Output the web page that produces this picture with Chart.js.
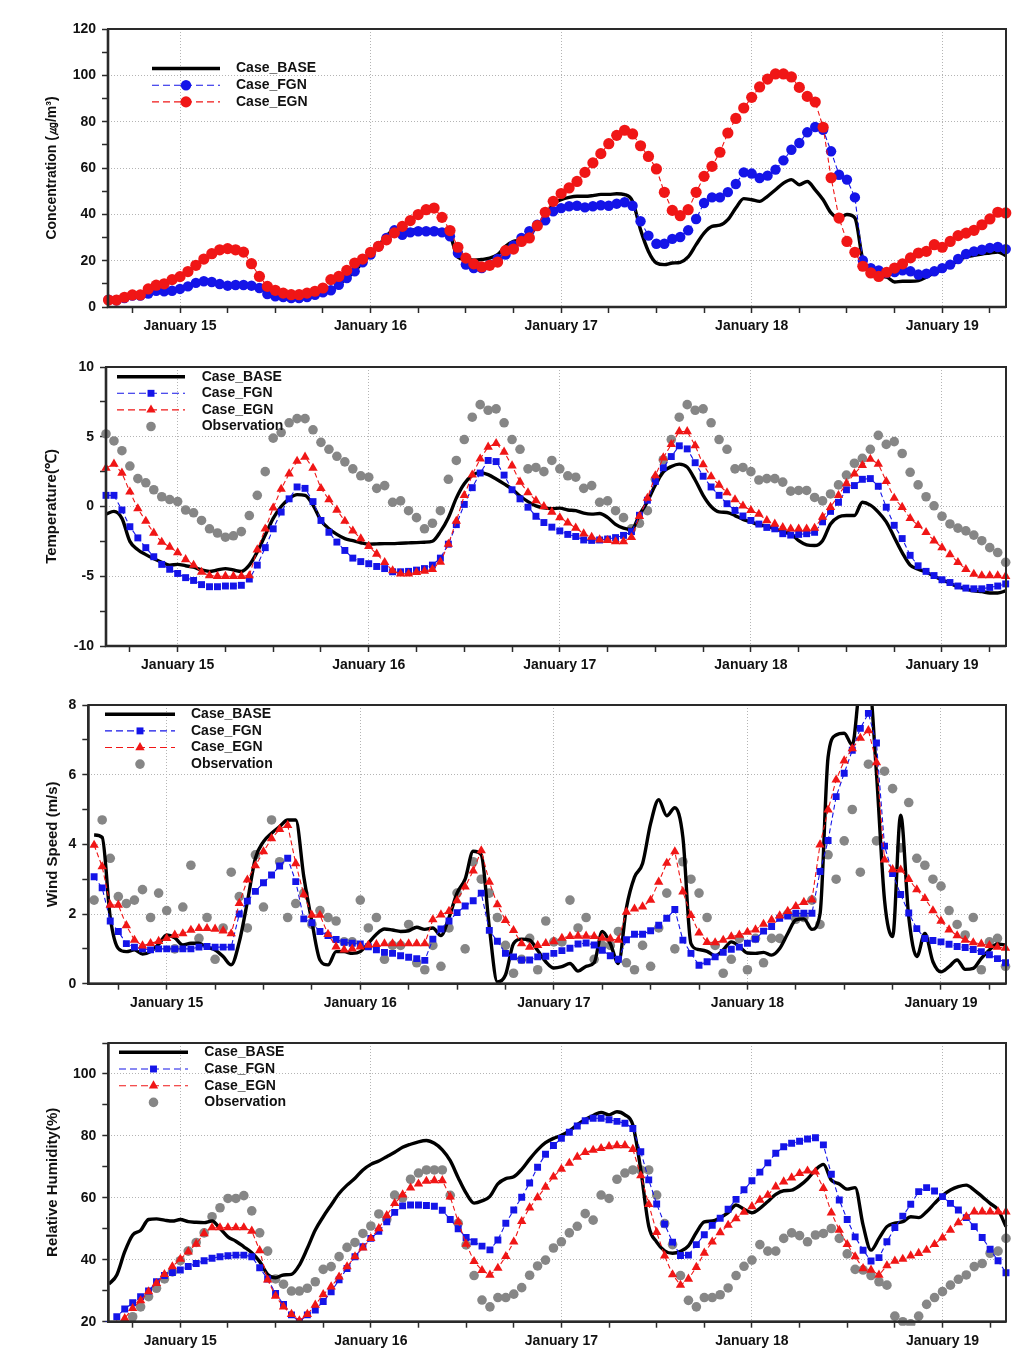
<!DOCTYPE html>
<html>
<head>
<meta charset="utf-8">
<script src="https://cdn.jsdelivr.net/npm/chart.js@4.4.1/dist/chart.umd.min.js"></script>
<style>
html,body{margin:0;padding:0;background:#fff;}
#wrap{position:relative;width:1019px;height:1361px;overflow:hidden;background:#fff;}
canvas{position:absolute;left:0;}
</style>
</head>
<body>
<div id="wrap">
<canvas id="c1" width="1019" height="340" style="top:0px"></canvas>
<canvas id="c2" width="1019" height="340" style="top:340px"></canvas>
<canvas id="c3" width="1019" height="340" style="top:680px"></canvas>
<canvas id="c4" width="1019" height="341" style="top:1020px"></canvas>
</div>
<script>
// ---------- time axis (hourly, hours relative to January 15 00:00) ----------
const FIRST_HOUR = -9;          // first sample: January 14, 15:00
const MONTH = 'January';
const FIRST_LABEL_DAY = 15;      // day shown at hour 0
const SERIES_NAMES = ['Case_BASE', 'Case_FGN', 'Case_EGN', 'Observation'];

// ---------- Panel 1: Concentration (㎍/m³) ----------
const CONC_BASE = [
 3,3.2,4,4.8,5,6,7,7,7.4,8,
 9,10.3,11,10.8,10,9.3,9.5,9.5,9.2,8.2,
 5.8,4.8,4.4,4,4,4.4,5.3,6.3,7.2,9.6,
 12.5,15.4,19.3,22.6,26.5,30.5,33.5,33.5,33.3,33.3,
 33.3,33.3,33,31,21.5,20.5,20.2,20.5,21.1,22.6,
 26.2,28.3,29,31.2,34.8,39.1,44.5,46.3,47.3,47.8,
 47.8,48.1,48.6,48.6,48.9,48.5,45.6,33.4,24,19,
 18.3,19,19.3,21.6,26.9,31.9,34.8,35.3,37.7,42.7,
 46.8,46.3,45.6,47.8,50.6,53.5,55,52.8,54.2,50.6,
 46.3,40.6,38.4,39.9,38.4,20.4,14.4,13.2,12.9,10.8,
 11.1,11.1,11.4,12.9,14.7,16.1,18,20.1,21.6,22.3,
 22.9,23.3,23.7,22.2];
const CONC_FGN = [
 3.2,2.9,3.9,4.9,4.9,5.8,7,6.8,7,7.8,
 8.9,10.4,11.1,10.8,9.9,9.2,9.5,9.5,9.2,8.2,
 5.6,4.6,4.3,3.9,3.9,4.3,5.3,6.3,7.2,9.6,
 12.5,15.4,19.3,22.6,26.2,29.8,33.1,31.2,32.2,32.7,
 32.7,32.7,32.2,30.5,23.3,18.3,16.8,16.8,18.3,20.7,
 22.6,26.6,29.8,32.7,35.5,37.4,41.3,42.7,43.5,43.7,
 43,43.5,43.9,43.7,44.6,45.2,43.7,37,30.8,27.3,
 27.3,29.4,30.2,33.1,38,44.9,47.3,47.3,49.6,53.1,
 58.1,57.6,55.7,56.7,59.3,63.3,67.9,70.8,75.4,77.7,
 76.5,67.2,57.1,55,47.3,20.1,16.8,15.8,14.7,15.1,
 15.8,15.4,14,14.4,15.4,16.8,18.3,20.7,22.9,24,
 24.7,25.5,25.9,25];
const CONC_EGN = [
 3,3,4.2,5.2,5.2,7.8,9.4,10,11.8,13.1,
 15.3,18,20.7,23,24.7,25.2,24.7,23.7,18.7,13.2,
 8.9,7.2,6,5.3,5.3,6,6.8,8.2,11.8,13.2,
 15.8,19,20.7,23.6,26.2,29,32,34.8,37.3,39.9,
 42,42.7,38.7,33,25.8,21.1,18.6,17.3,18,19.4,
 24.3,25,28.3,29.8,35.1,40.9,45.6,49,51.4,54.2,
 58.1,62.2,66.2,70.5,74.1,76.3,74.7,69.6,65,59.6,
 49.5,41.7,39.4,42,49.5,56.4,60.7,66.8,75.1,81.4,
 85.9,90.5,95,98.4,100.6,100.6,99.3,94.8,90.9,88.5,
 77.6,55.8,38.4,28.3,23.6,17.6,14.7,13.2,15,16.8,
 18.6,21.2,23.3,24,26.9,25.8,28.3,30.8,31.9,33.1,
 35.5,38,40.9,40.6];

// ---------- Panel 2: Temperature (℃) ----------
const TEMP_BASE = [
 -0.55,-0.35,-0.85,-2.5,-3.1,-3.45,-3.75,-4.0,-4.2,-4.15,
 -4.25,-4.35,-4.55,-4.65,-4.55,-4.45,-4.55,-4.65,-4.2,-3.25,
 -2.05,-0.85,0.0,0.55,0.85,0.8,0.1,-1.0,-1.6,-2.0,
 -2.3,-2.45,-2.6,-2.7,-2.68,-2.66,-2.66,-2.63,-2.61,-2.59,
 -2.56,-2.49,-1.8,-0.8,0.6,1.63,2.23,2.43,2.28,1.97,
 1.62,1.25,0.75,0.35,0.05,-0.1,-0.15,-0.12,-0.25,-0.3,
 -0.48,-0.55,-0.5,-0.78,-1.28,-1.55,-1.65,-0.6,0.35,1.55,
 2.48,2.87,3.04,2.82,1.9,0.8,0.0,-0.39,-0.43,-0.65,
 -0.92,-1.1,-1.32,-1.4,-1.6,-1.8,-1.95,-2.45,-2.75,-2.8,
 -2.45,-1.25,-0.75,-0.65,-0.65,0.3,0.1,-0.4,-1.1,-2.2,
 -3.3,-4.2,-4.5,-4.7,-5.0,-5.25,-5.5,-5.75,-5.9,-6.05,
 -6.1,-6.2,-6.2,-6.05];
const TEMP_FGN = [
 0.8,0.8,-0.25,-1.45,-2.25,-2.95,-3.6,-4.15,-4.5,-4.8,
 -5.1,-5.3,-5.6,-5.75,-5.75,-5.7,-5.7,-5.65,-5.2,-4.2,
 -2.95,-1.6,-0.4,0.55,1.4,1.3,0.35,-1.0,-1.85,-2.55,
 -3.15,-3.7,-3.95,-4.1,-4.3,-4.45,-4.68,-4.68,-4.65,-4.56,
 -4.45,-4.2,-3.7,-2.7,-1.3,0.15,1.35,2.4,3.3,3.22,
 2.25,1.2,0.55,-0.05,-0.7,-1.15,-1.48,-1.75,-2.0,-2.15,
 -2.4,-2.43,-2.4,-2.33,-2.23,-2.07,-1.8,-0.63,0.45,1.8,
 2.78,3.58,4.35,4.13,3.14,2.17,1.4,0.8,0.2,-0.28,
 -0.68,-1.0,-1.26,-1.5,-1.6,-1.95,-2.05,-2.0,-1.95,-1.85,
 -1.1,-0.35,0.3,1.2,1.5,1.95,2.0,1.45,-0.05,-1.35,
 -2.3,-3.5,-4.25,-4.65,-4.95,-5.25,-5.45,-5.7,-5.85,-5.9,
 -5.9,-5.8,-5.7,-5.55];
const TEMP_EGN = [
 2.75,3.05,2.4,1.05,-0.15,-1.05,-1.9,-2.55,-2.9,-3.3,
 -3.8,-4.2,-4.7,-4.95,-5.0,-5.0,-5.0,-5.0,-4.95,-3.1,
 -1.6,-0.1,1.25,2.35,3.25,3.55,2.75,1.3,0.5,-0.25,
 -1.05,-1.75,-2.3,-2.85,-3.4,-4.0,-4.6,-4.83,-4.83,-4.72,
 -4.63,-4.5,-3.98,-2.7,-1.05,0.8,2.27,3.42,4.27,4.53,
 3.91,2.92,1.76,1.0,0.42,0.0,-0.39,-0.8,-1.17,-1.54,
 -1.95,-2.19,-2.38,-2.43,-2.52,-2.52,-2.21,-0.7,0.6,2.22,
 3.5,4.45,5.38,5.38,4.37,3.0,2.14,1.54,1.0,0.5,
 0.05,-0.28,-0.55,-1.0,-1.25,-1.5,-1.6,-1.6,-1.6,-1.55,
 -0.75,-0.05,0.8,1.65,2.35,2.95,3.4,3.05,1.8,0.6,
 -0.05,-0.85,-1.35,-1.85,-2.45,-2.95,-3.45,-4.0,-4.5,-4.85,
 -4.95,-4.95,-4.95,-5.0];
const TEMP_OBS = [
 5.2,4.7,4.0,2.9,2.0,1.7,1.2,0.7,0.5,0.35,
 -0.25,-0.45,-1.0,-1.6,-1.9,-2.2,-2.1,-1.8,-0.65,0.8,
 2.5,4.9,5.3,6.0,6.3,6.3,5.5,4.6,4.1,3.6,
 3.2,2.7,2.2,2.1,1.3,1.5,0.3,0.4,-0.3,-0.8,
 -1.6,-1.2,-0.3,1.95,3.3,4.8,6.4,7.3,6.9,7.0,
 6.0,4.8,4.1,2.7,2.8,2.5,3.3,2.7,2.2,2.1,
 1.3,1.5,0.3,0.4,-0.3,-0.8,-1.6,-1.2,-0.3,1.95,
 3.35,4.8,6.4,7.3,6.9,7.0,6.0,4.8,4.1,2.7,
 2.8,2.5,1.9,2.0,2.0,1.75,1.1,1.15,1.15,0.65,
 0.4,0.9,1.55,2.25,3.1,3.45,4.1,5.1,4.45,4.65,
 3.8,2.45,1.55,0.7,0.05,-0.7,-1.25,-1.55,-1.75,-2.05,
 -2.45,-2.95,-3.3,-4.0];

// ---------- Panel 3: Wind Speed (m/s) ----------
const WIND_BASE = [
 4.27,4.2,1.9,1.01,0.92,0.97,0.85,0.92,1.13,1.4,
 1.32,1.11,1.16,1.16,1.04,0.97,0.78,0.54,1.2,2.35,
 3.6,4.08,4.32,4.51,4.7,4.7,3.07,1.78,0.68,0.54,
 0.92,0.92,0.87,0.92,1.16,1.42,1.57,1.54,1.5,1.52,
 1.62,1.56,1.6,1.38,1.9,2.6,3.0,3.8,3.7,1.62,
 0.05,0.25,1.15,1.28,1.25,0.95,0.63,0.45,0.49,0.58,
 0.36,0.5,0.6,1.5,1.15,0.58,2.18,3.06,3.45,4.6,
 5.28,4.82,5.05,4.2,1.15,0.98,0.93,0.8,0.97,1.2,
 1.07,0.88,0.87,0.9,0.82,1.01,1.44,1.83,1.86,1.56,
 2.0,6.5,7.14,7.19,6.85,8.6,8.8,6.04,2.4,1.35,
 4.84,1.92,0.78,1.44,0.63,0.34,0.49,0.68,0.41,0.44,
 0.73,0.97,1.14,1.11];
const WIND_FGN = [
 3.07,2.75,1.8,1.5,1.15,1.05,1.0,0.97,1.0,1.0,
 1.0,1.0,1.0,1.05,1.07,1.05,1.05,1.05,2.0,2.37,
 2.65,2.9,3.12,3.38,3.6,2.93,1.86,1.75,1.5,1.38,
 1.27,1.19,1.16,1.14,1.06,0.97,0.9,0.87,0.8,0.76,
 0.72,0.67,1.28,1.57,1.8,2.04,2.23,2.38,2.6,1.53,
 1.22,0.87,0.77,0.68,0.68,0.77,0.79,0.87,0.95,1.02,
 1.14,1.17,1.11,0.96,0.8,0.7,1.26,1.42,1.42,1.52,
 1.68,1.88,2.13,1.25,0.87,0.53,0.63,0.77,0.9,0.99,
 1.05,1.16,1.28,1.51,1.64,1.88,1.94,2.02,2.02,2.02,
 3.22,4.11,5.37,6.04,6.7,7.33,7.76,6.91,3.95,3.16,
 2.56,2.03,1.58,1.3,1.24,1.2,1.13,1.07,1.04,0.98,
 0.92,0.83,0.72,0.6];
const WIND_EGN = [
 3.98,3.36,2.26,2.26,1.67,1.25,1.09,1.16,1.22,1.3,
 1.4,1.44,1.54,1.59,1.59,1.57,1.52,1.44,2.31,2.98,
 3.39,3.79,4.17,4.43,4.55,3.45,2.56,1.97,1.97,1.42,
 1.06,0.97,1.0,1.06,1.11,1.13,1.15,1.15,1.15,1.15,
 1.15,1.15,1.84,1.98,2.08,2.39,2.78,3.24,3.82,2.92,
 2.27,1.82,1.53,1.15,1.05,1.1,1.16,1.21,1.31,1.36,
 1.37,1.37,1.36,1.31,1.29,1.25,2.06,2.15,2.21,2.4,
 2.92,3.46,3.79,2.64,1.96,1.46,1.19,1.18,1.25,1.35,
 1.4,1.48,1.55,1.71,1.83,1.95,2.08,2.22,2.34,2.41,
 3.99,4.99,5.85,6.4,6.75,7.05,7.27,6.35,3.56,3.28,
 3.27,3.0,2.7,2.45,2.1,1.8,1.55,1.38,1.25,1.18,
 1.14,1.1,1.05,1.02];
const WIND_OBS = [
 2.4,4.7,3.6,2.5,2.3,2.4,2.7,1.9,2.6,2.1,
 1.0,2.2,3.4,1.3,1.9,0.7,1.6,3.2,2.5,1.6,
 3.7,2.2,4.7,3.5,1.9,2.3,2.6,1.7,2.1,1.9,
 1.8,1.2,1.2,2.4,1.6,1.9,0.7,1.1,1.1,1.7,
 0.6,0.4,1.1,0.5,1.6,2.6,1.0,3.5,3.0,2.6,
 1.9,1.1,0.3,0.7,1.3,0.4,1.8,1.2,1.2,2.4,
 1.6,1.9,0.7,1.1,1.1,1.5,0.6,0.4,1.1,0.5,
 1.6,2.6,1.0,3.5,3.0,2.6,1.9,1.1,0.3,0.7,
 1.3,0.4,1.3,0.6,1.3,1.3,2.0,1.85,1.9,2.4,
 1.7,3.7,3.0,4.1,5.0,3.2,6.3,4.1,6.1,5.6,
 3.9,5.2,3.6,3.4,3.0,2.8,2.1,1.7,1.4,1.9,
 0.4,1.2,1.3,0.5];

// ---------- Panel 4: Relative Humidity (%) ----------
const RH_BASE = [
 32.1,35.1,42.6,48.0,49.5,53.0,53.2,52.8,52.5,53.0,
 52.3,52.1,52.0,52.5,50.1,47.4,46.0,44.2,42.3,39.4,
 35.3,34.2,35.1,35.3,38.3,43.7,49.6,53.9,57.7,61.4,
 64.1,66.3,69.0,70.8,71.9,73.3,74.7,76.3,77.3,78.1,
 78.5,77.6,75.5,72.0,66.5,61.5,58.3,59.0,60.5,64.5,
 66.2,66.8,69.2,72.5,75.5,77.8,79.2,80.2,81.6,83.6,
 85.3,86.6,87.6,86.8,87.8,86.8,83.5,69.0,50.9,45.7,
 42.9,42.1,42.7,44.5,48.8,52.2,52.5,53.6,55.2,57.7,
 56.3,55.2,56.6,58.8,61.1,62.3,62.5,63.9,66.1,69.0,
 70.8,65.7,64.5,62.8,63.3,51.2,43.1,46.9,50.7,51.8,
 52.3,53.9,53.6,55.5,58.2,60.7,62.5,63.6,64.1,62.5,
 60.4,58.2,56.1,50.7];
const RH_FGN = [
 19.0,21.6,24.1,26.1,28.1,29.9,32.9,34.9,35.9,36.7,
 37.8,38.8,39.7,40.5,41.0,41.3,41.5,41.5,41.0,37.4,
 33.8,29.1,25.6,22.2,20.0,22.2,23.8,26.5,29.7,33.5,
 37.2,41.0,44.2,46.9,49.2,52.3,55.3,57.4,57.7,57.7,
 57.5,57.3,56.0,53.0,50.0,47.2,45.8,44.4,43.2,46.4,
 51.8,56.1,60.2,64.8,69.9,74.1,76.9,79.2,81.2,83.2,
 84.9,85.7,85.7,85.2,84.7,84.1,82.4,74.9,65.8,58.0,
 51.5,45.7,41.4,41.5,44.9,48.1,51.1,53.4,56.3,59.5,
 62.6,65.5,68.3,71.3,74.4,76.5,77.6,78.3,79.0,79.4,
 77.1,67.6,59.3,53.0,47.4,43.1,39.6,40.7,45.8,50.4,
 54.1,57.9,62.0,63.3,62.2,60.4,58.2,56.1,53.6,50.7,
 47.2,43.4,39.7,35.8];
const RH_EGN = [
 16.0,18.8,21.1,24.3,26.8,29.7,32.4,35.3,37.8,40.2,
 42.6,45.1,48.5,50.4,50.4,50.4,50.4,50.4,49.3,43.0,
 33.5,28.3,24.8,22.4,20.3,22.4,25.4,28.8,31.3,34.5,
 37.8,41.0,43.9,46.9,50.1,54.3,58.2,61.0,63.2,64.5,
 65.4,65.6,65.6,60.3,52.3,45.1,39.5,36.6,35.1,37.3,
 41.1,45.8,52.4,56.8,60.1,63.5,66.8,69.3,71.2,73.2,
 74.7,75.4,76.0,76.6,76.9,76.9,75.7,67.2,57.9,48.9,
 41.3,35.2,31.8,33.8,37.6,42.2,45.8,48.8,51.2,53.3,
 55.4,57.2,59.3,60.9,63.6,65.2,66.5,67.9,68.7,68.4,
 63.1,55.2,49.6,45.0,41.0,37.2,36.7,35.1,38.1,39.6,
 40.2,41.3,42.1,43.1,45.0,47.1,49.6,52.0,53.9,55.5,
 55.5,55.5,55.5,55.5];
const RH_OBS = [
 null,null,null,21.6,24.8,28.1,30.8,33.8,36.1,39.7,
 42.8,45.6,48.7,53.9,56.8,59.8,59.8,60.7,55.8,48.7,
 42.8,33.8,32.1,29.9,29.9,30.8,32.9,36.9,37.8,41.0,
 44.0,45.6,48.5,50.9,54.8,53.0,60.9,60.0,66.0,68.0,
 69.0,69.0,69.0,60.8,51.8,44.8,34.9,27.0,24.8,27.8,
 27.8,28.9,31.0,35.0,38.0,39.9,43.8,45.8,48.7,50.8,
 54.9,52.8,60.9,59.8,66.0,68.0,69.0,69.0,69.0,60.9,
 51.7,44.9,34.9,26.9,24.8,27.8,27.8,28.7,30.9,34.9,
 37.9,39.9,44.9,42.8,42.8,46.9,48.7,47.8,45.8,48.0,
 48.5,50.1,46.9,41.9,36.9,36.7,34.9,32.9,31.8,21.8,
 20.0,19.3,21.8,25.6,27.8,29.7,31.8,33.7,35.1,37.8,
 38.8,42.1,42.8,46.9];

// ---------- styling ----------
const FONT = '"Liberation Sans", Arial, Helvetica, sans-serif';
const C_BASE = '#000000', C_FGN = '#1414e8', C_EGN = '#f01616', C_OBS = '#868686';
const GRID = '#b4b4b4', AXIS = '#2a2a2a';

Chart.defaults.font.family = FONT;
Chart.defaults.font.weight = 'bold';
Chart.defaults.font.size = 14;
Chart.defaults.color = '#111';

function toPoints(arr) { return arr.map((v, k) => ({x: FIRST_HOUR + k, y: v})); }

function drawMarker(ctx, style, r, x, y) {
  if (Chart.helpers && Chart.helpers.drawPoint) {
    Chart.helpers.drawPoint(ctx, {pointStyle: style, radius: r, rotation: 0, borderWidth: 0}, x, y);
    return;
  }
  ctx.beginPath();
  if (style === 'rect') { const s = r * Math.SQRT1_2; ctx.rect(x - s, y - s, 2 * s, 2 * s); }
  else if (style === 'triangle') {
    for (let k = 0; k < 3; k++) { const a = k * 2 * Math.PI / 3; const px = x + Math.sin(a) * r, py = y - Math.cos(a) * r; k ? ctx.lineTo(px, py) : ctx.moveTo(px, py); }
    ctx.closePath();
  } else ctx.arc(x, y, r, 0, Math.PI * 2);
  ctx.fill();
}

const decoPlugin = {
  id: 'deco',
  afterDraw(chart, args, o) {
    const ctx = chart.ctx, a = chart.chartArea;
    ctx.save();
    ctx.setLineDash([]);
    ctx.strokeStyle = AXIS;
    ctx.lineWidth = 2;
    ctx.strokeRect(a.left, a.top, a.right - a.left, a.bottom - a.top);
    ctx.lineWidth = 2.6;
    ctx.beginPath();
    ctx.moveTo(a.left, a.top); ctx.lineTo(a.left, a.bottom); ctx.lineTo(a.right, a.bottom);
    ctx.stroke();
    // legend
    ctx.font = 'bold 14px ' + FONT;
    ctx.textBaseline = 'middle';
    ctx.textAlign = 'left';
    chart.data.datasets.forEach((d, k) => {
      const y = o.y0 + k * o.dy;
      if (d.showLine !== false) {
        ctx.setLineDash(d.legendDash || []);
        ctx.strokeStyle = d.borderColor;
        ctx.lineWidth = d.borderWidth;
        ctx.beginPath(); ctx.moveTo(o.x1, y); ctx.lineTo(o.x2, y); ctx.stroke();
        ctx.setLineDash([]);
      }
      if (d.pointRadius > 0) {
        ctx.fillStyle = d.pointBackgroundColor;
        drawMarker(ctx, d.pointStyle, d.pointRadius, (o.x1 + o.x2) / 2, y);
      }
      ctx.fillStyle = '#111';
      ctx.fillText(d.label, o.tx, y);
    });
    ctx.restore();
  }
};

function isMult(v, m) { return Math.abs(v / m - Math.round(v / m)) < 1e-6; }

function makePanel(p) {
  const mk = p.marker;
  const datasets = [
    {label: SERIES_NAMES[0], data: toPoints(p.base), borderColor: C_BASE, borderWidth: 3.4,
     pointRadius: 0, cubicInterpolationMode: 'monotone', order: 2, clip: {left: 2, right: 2, top: 0, bottom: 0}},
    {label: SERIES_NAMES[1], data: toPoints(p.fgn), borderColor: C_FGN, borderWidth: 1.1, borderDash: [5, 3], legendDash: [7, 4],
     pointStyle: mk.fgn, pointRadius: mk.fgnR, pointBackgroundColor: C_FGN, pointBorderWidth: 0, order: 1, clip: p.clip},
    {label: SERIES_NAMES[2], data: toPoints(p.egn), borderColor: C_EGN, borderWidth: 1.1, borderDash: [5, 3], legendDash: [7, 4],
     pointStyle: mk.egn, pointRadius: mk.egnR, pointBackgroundColor: C_EGN, pointBorderWidth: 0, order: 0, clip: p.clip}
  ];
  if (p.obs) datasets.push({label: SERIES_NAMES[3], data: toPoints(p.obs), showLine: false, borderColor: C_OBS, borderWidth: 0,
     pointStyle: 'circle', pointRadius: 4.8, pointBackgroundColor: C_OBS, pointBorderWidth: 0, order: 3, clip: p.obsClip || p.clip});

  const canvas = document.getElementById(p.id);
  const H = canvas.height;
  new Chart(canvas, {
    type: 'line',
    data: {datasets},
    plugins: [decoPlugin],
    options: {
      responsive: false, animation: false, events: [],
      layout: {padding: {left: 0, top: p.area.top, right: 1019 - p.area.right, bottom: 0}},
      elements: {line: {tension: 0}, point: {hoverRadius: 0}},
      plugins: {legend: {display: false}, tooltip: {enabled: false}, deco: p.legend},
      scales: {
        x: {
          type: 'linear', min: p.xMin, max: p.xMax,
          afterFit: s => { s.height = H - p.area.bottom; },
          afterBuildTicks: s => {
            const t = [];
            for (let v = Math.ceil(s.min / 6) * 6; v <= s.max + 1e-9; v += 6) t.push({value: v});
            s.ticks = t;
          },
          ticks: {autoSkip: false, maxRotation: 0, minRotation: 0, padding: 5, color: '#111',
            font: {size: 14, weight: 'bold'},
            callback: v => isMult(v, 24) ? MONTH + ' ' + (FIRST_LABEL_DAY + Math.round(v / 24)) : ''},
          grid: {drawOnChartArea: true, drawTicks: true, tickLength: 6, lineWidth: 1,
            color: c => (c.tick && isMult(c.tick.value, 24)) ? GRID : 'rgba(0,0,0,0)',
            tickColor: AXIS, tickWidth: 1.5},
          border: {display: false, dash: [1, 2]}
        },
        y: {
          type: 'linear', min: p.y.min, max: p.y.max,
          afterFit: s => { s.width = p.area.left; },
          afterBuildTicks: s => {
            const t = [];
            for (let v = p.y.min; v <= p.y.max + 1e-9; v += p.y.step) t.push({value: Math.round(v * 1000) / 1000});
            s.ticks = t;
          },
          ticks: {autoSkip: false, padding: 6, color: '#111', font: {size: 14, weight: 'bold'},
            callback: v => (isMult(v, p.y.major) && v <= p.y.labelMax) ? String(v) : ''},
          grid: {drawOnChartArea: true, drawTicks: true, tickLength: 6, lineWidth: 1,
            color: c => (c.tick && isMult(c.tick.value, p.y.major) && c.tick.value > p.y.min && c.tick.value < p.y.max) ? GRID : 'rgba(0,0,0,0)',
            tickColor: AXIS, tickWidth: 1.5},
          border: {display: false, dash: [1, 2]},
          title: {display: true, text: p.title, color: '#111', font: {size: p.titleSize, weight: 'bold'},
            padding: {top: p.titlePad, bottom: 0}}
        }
      }
    }
  });
}

const CIRCLES = {fgn: 'circle', fgnR: 5.2, egn: 'circle', egnR: 5.6};
const SQ_TRI = {fgn: 'rect', fgnR: 4.9, egn: 'triangle', egnR: 5.4};

makePanel({id: 'c1', area: {left: 108, right: 1006, top: 29, bottom: 307}, xMin: -9.07, xMax: 104.03,
  y: {min: 0, max: 120, step: 10, major: 20, labelMax: 120}, title: 'Concentration (㎍/m³)', titleSize: 14, titlePad: 43.3,
  legend: {x1: 152, x2: 220, tx: 236, y0: 68.5, dy: 16.7}, marker: CIRCLES,
  clip: {left: 8, right: 8, top: 8, bottom: 8},
  base: CONC_BASE, fgn: CONC_FGN, egn: CONC_EGN});

makePanel({id: 'c2', area: {left: 106, right: 1006, top: 27, bottom: 306}, xMin: -9, xMax: 104.04,
  y: {min: -10, max: 10, step: 2.5, major: 5, labelMax: 10}, title: 'Temperature(℃)', titleSize: 15, titlePad: 43.3,
  legend: {x1: 117, x2: 185, tx: 201.7, y0: 36.7, dy: 16.6}, marker: SQ_TRI,
  clip: {left: 8, right: 8, top: 8, bottom: 8},
  base: TEMP_BASE, fgn: TEMP_FGN, egn: TEMP_EGN, obs: TEMP_OBS});

makePanel({id: 'c3', area: {left: 88.3, right: 1006, top: 25, bottom: 303.7}, xMin: -9.72, xMax: 104.06,
  y: {min: 0, max: 8, step: 1, major: 2, labelMax: 8}, title: 'Wind Speed (m/s)', titleSize: 15, titlePad: 44.3,
  legend: {x1: 105, x2: 175, tx: 191, y0: 34.3, dy: 16.6}, marker: SQ_TRI,
  clip: {left: 8, right: 8, top: 6, bottom: 8},
  base: WIND_BASE, fgn: WIND_FGN, egn: WIND_EGN, obs: WIND_OBS});

makePanel({id: 'c4', area: {left: 108.3, right: 1006, top: 23, bottom: 301.7}, xMin: -9.07, xMax: 104,
  y: {min: 20, max: 110, step: 10, major: 20, labelMax: 100}, title: 'Relative Humidity(%)', titleSize: 15, titlePad: 44.3,
  legend: {x1: 119, x2: 188, tx: 204.3, y0: 32.3, dy: 16.7}, marker: SQ_TRI,
  clip: {left: 8, right: 8, top: 8, bottom: 0}, obsClip: {left: 8, right: 8, top: 8, bottom: 4},
  base: RH_BASE, fgn: RH_FGN, egn: RH_EGN, obs: RH_OBS});
</script>
</body>
</html>
